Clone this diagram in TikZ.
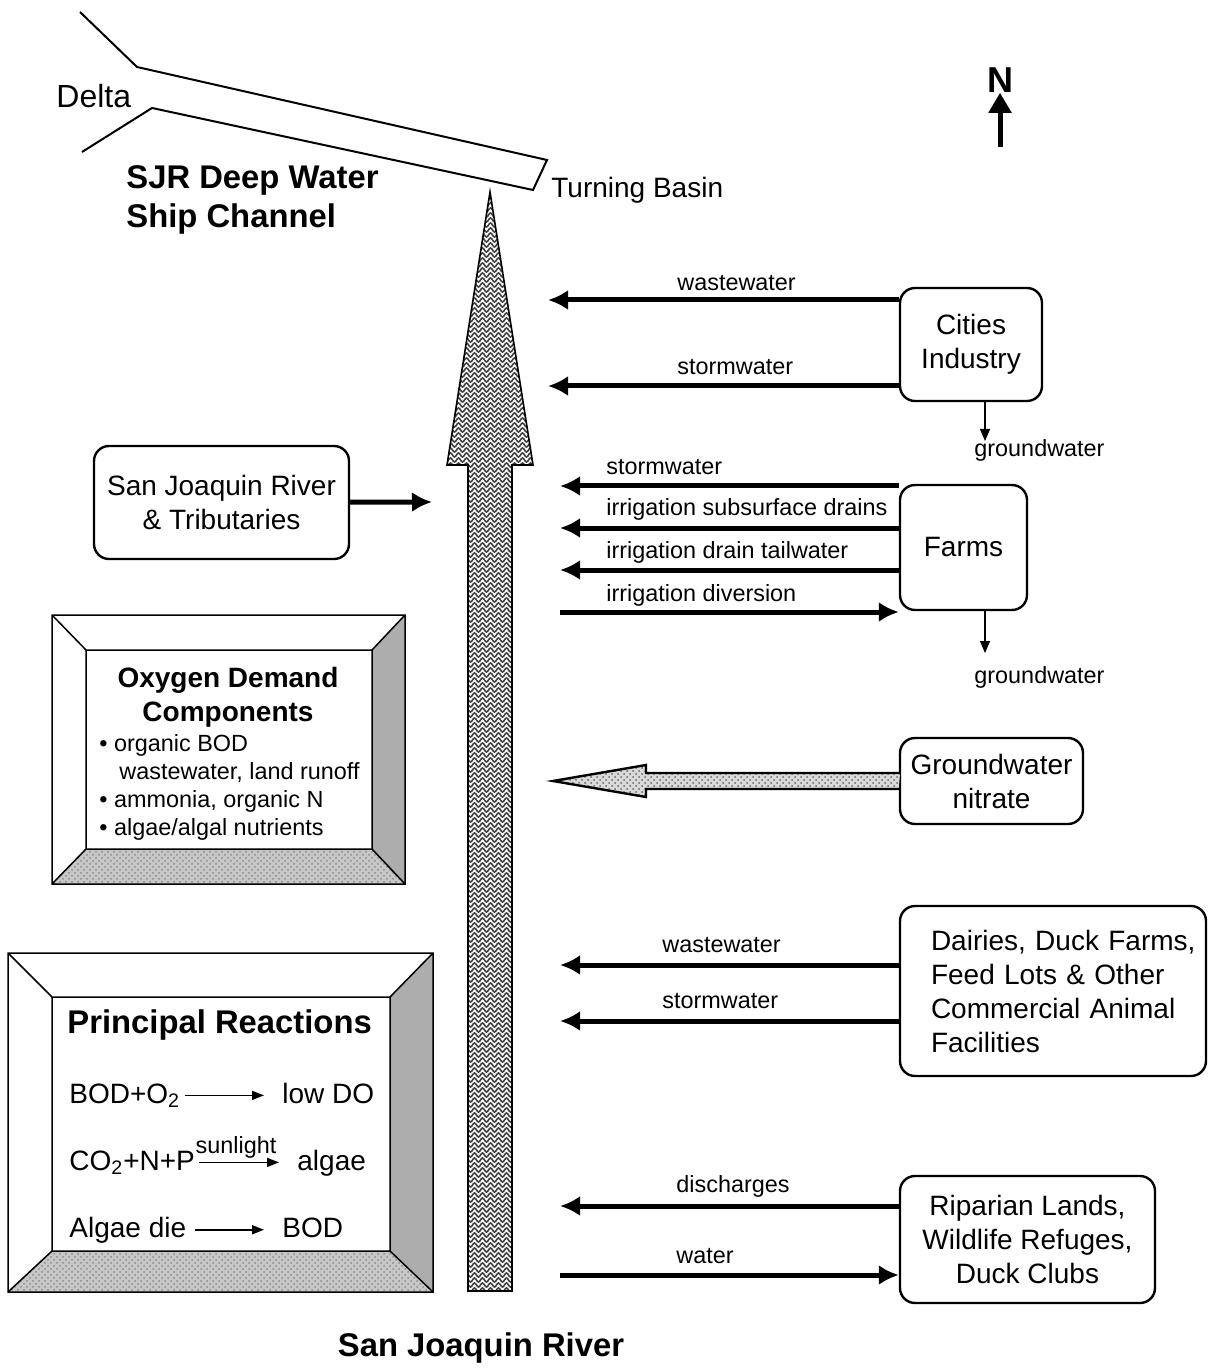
\documentclass[tikz,border=0pt]{standalone}
\usepackage{fontspec}
\setmainfont{Liberation Sans}
\usetikzlibrary{arrows.meta, positioning, decorations.pathmorphing, patterns}

\newcommand{\boxfont}{\fontsize{14}{17}\selectfont}
\newcommand{\lblfont}{\fontsize{11.7}{14}\selectfont}
\newcommand{\headfont}{\fontsize{16.4}{19.5}\selectfont\bfseries}
\newcommand{\riveroutline}{(468,1291) -- (468,465) -- (447,465) -- (490,192)
  -- (533,465) -- (512,465) -- (512,1291) -- cycle}

\begin{document}
\begin{tikzpicture}[
  x=0.5pt, y=-0.5pt,
  srcbox/.style={draw, line width=1.2pt, rounded corners=7.5pt, align=center,
    font=\boxfont, inner sep=0pt},
  flow/.style={line width=2.5pt, -{Latex[length=10pt, width=10pt]}},
  seep/.style={line width=0.6pt, -{Triangle[length=6pt, width=5pt]}},
  rxn/.style={line width=0.8pt, -{Triangle[length=6pt, width=4.5pt]}, shorten >=7pt},
  lbl/.style={font=\lblfont, inner sep=0pt, anchor=base west},
  rtxt/.style={font=\boxfont, inner sep=2pt, anchor=base west},
  bevelR/.style={fill=black!32},
  bevelB/.style={preaction={fill=black!22}, pattern=crosshatch dots, pattern color=black!45},
  frame/.style={line width=0.75pt},
]
  \useasboundingbox (0,0) rectangle (1207,1368);

  % ship channel
  \draw[line width=1pt] (80,12) -- (137,67) -- (547,160) -- (533,190)
    -- (152,108) -- (82,152);
  \node[font=\fontsize{16}{19}\selectfont, anchor=west, inner sep=0pt] (delta) at (56,96) {Delta};
  \node[font=\headfont, align=left, anchor=west, inner sep=0pt] (channel) at (126,200)
    {SJR Deep Water\\Ship Channel};
  \node[font=\boxfont, anchor=west, inner sep=0pt] (basin) at (551,190) {Turning Basin};

  % north arrow
  \node[font=\fontsize{18}{20}\selectfont\bfseries, inner sep=0pt] (north) at (1000,80) {N};
  \coordinate (nbase) at (1000,147);
  \draw[line width=2.5pt, -{Triangle[length=10pt, width=11pt]}] (nbase) -- (north.south);

  % river
  \begin{scope}
    \clip \riveroutline;
    \fill[white] (440,185) rectangle (540,1295);
    \foreach \y in {190,195,...,1295}
      \draw[black!75, line width=0.8pt, decorate,
        decoration={snake, segment length=4pt, amplitude=1pt}] (440,\y) -- (540,\y);
  \end{scope}
  \draw[line width=0.8pt, line join=miter] \riveroutline;
  \node[font=\headfont] (river) at (481,1348) {San Joaquin River};

  % sources
  \node[srcbox, minimum width=71pt, minimum height=56.5pt] (cities) at (971,344.5)
    {Cities\\Industry};
  \node[srcbox, minimum width=63.5pt, minimum height=62.5pt] (farms) at (963.5,547.5)
    {Farms};
  \node[srcbox, minimum width=91.5pt, minimum height=43pt] (gwn) at (991.5,781)
    {Groundwater\\nitrate};
  \node[srcbox, align=left, text width=122pt, inner xsep=15.5pt, minimum height=85pt]
    (dairy) at (1053,991)
    {\mbox{Dairies, Duck Farms,}\\\mbox{Feed Lots \& Other}\\\mbox{Commercial Animal}\\Facilities};
  \node[srcbox, minimum width=127.5pt, minimum height=63.5pt] (ripar) at (1027.5,1239.5)
    {Riparian Lands,\\Wildlife Refuges,\\Duck Clubs};
  \node[srcbox, minimum width=127.5pt, minimum height=56.5pt] (sjr) at (221.5,502.5)
    {San Joaquin River\\\& Tributaries};

  % cities
  \coordinate (cw) at (548,300);
  \coordinate (cs) at (548,386);
  \draw[flow] (cities.west |- cw) -- (cw);
  \draw[flow] (cities.west |- cs) -- (cs);
  \node[lbl] (lcw) at (677,291) {wastewater};
  \node[lbl] (lcs) at (677,375) {stormwater};
  \coordinate (gw1) at (985,441);
  \draw[seep] (cities.south -| gw1) -- (gw1);
  \node[lbl] (lgw1) at (974,457) {groundwater};

  % farms
  \coordinate (fs) at (560,486);
  \coordinate (fd) at (560,528);
  \coordinate (ft) at (560,570);
  \coordinate (fi) at (560,612);
  \draw[flow] (farms.west |- fs) -- (fs);
  \draw[flow] (farms.west |- fd) -- (fd);
  \draw[flow] (farms.west |- ft) -- (ft);
  \draw[flow] (fi) -- (farms.west |- fi);
  \node[lbl] (lfs) at (606,474) {stormwater};
  \node[lbl] (lfd) at (606,516) {irrigation subsurface drains};
  \node[lbl] (lft) at (606,558) {irrigation drain tailwater};
  \node[lbl] (lfi) at (606,601) {irrigation diversion};
  \coordinate (gw2) at (985,653);
  \draw[seep] (farms.south -| gw2) -- (gw2);
  \node[lbl] (lgw2) at (974,683) {groundwater};

  % groundwater nitrate
  \draw[line width=1.2pt, line join=miter, preaction={fill=gray!30},
    pattern=crosshatch dots, pattern color=black!60]
    (gwn.west) ++(0,8) -- (646,789) -- (646,797) -- (553,781) -- (646,765)
    -- (646,773) -- ++(254,0);

  % dairies
  \coordinate (dw) at (560,965);
  \coordinate (ds) at (560,1021);
  \draw[flow] (dairy.west |- dw) -- (dw);
  \draw[flow] (dairy.west |- ds) -- (ds);
  \node[lbl] (ldw) at (662,952) {wastewater};
  \node[lbl] (lds) at (662,1008) {stormwater};

  % riparian
  \coordinate (rd) at (560,1206);
  \coordinate (rw) at (560,1275);
  \draw[flow] (ripar.west |- rd) -- (rd);
  \draw[flow] (rw) -- (ripar.west |- rw);
  \node[lbl] (lrd) at (676,1192) {discharges};
  \node[lbl] (lrw) at (676,1263) {water};

  % tributaries
  \coordinate (sjrtip) at (432,502);
  \draw[flow] (sjr) -- (sjrtip);

  % oxygen demand box
  \fill[bevelR] (372,650) -- (405,615) -- (405,884) -- (372,849) -- cycle;
  \fill[bevelB] (86,849) -- (372,849) -- (405,884) -- (52,884) -- cycle;
  \draw[frame] (52,615) rectangle (405,884) (86,650) rectangle (372,849)
    (52,615) -- (86,650) (405,615) -- (372,650) (405,884) -- (372,849)
    (52,884) -- (86,849);
  \node[font=\fontsize{14}{17}\selectfont\bfseries, align=center] (odhead) at (228,697)
    {Oxygen Demand\\Components};
  \node[font=\fontsize{11.7}{14}\selectfont, align=left, anchor=west, inner sep=0pt]
    (odlist) at (99,787)
    {\textbullet\ organic BOD\\\hspace*{10pt}wastewater, land runoff\\
     \textbullet\ ammonia, organic N\\\textbullet\ algae/algal nutrients};

  % principal reactions box
  \fill[bevelR] (390,997) -- (433,953) -- (433,1292) -- (390,1251) -- cycle;
  \fill[bevelB] (52,1251) -- (390,1251) -- (433,1292) -- (8,1292) -- cycle;
  \draw[frame] (8,953) rectangle (433,1292) (52,997) rectangle (390,1251)
    (8,953) -- (52,997) (433,953) -- (390,997) (433,1292) -- (390,1251)
    (8,1292) -- (52,1251);
  \node[font=\headfont, anchor=base west, inner sep=0pt] (prhead) at (67,1033)
    {Principal Reactions};
  \node[rtxt] (r1l) at (65,1103) {BOD+O\textsubscript{2}};
  \node[rtxt] (r1r) at (278,1103) {low DO};
  \node[rtxt] (r2l) at (65,1170) {CO\textsubscript{2}+N+P};
  \node[rtxt] (r2r) at (293,1170) {algae};
  \node[rtxt] (r3l) at (65,1237) {Algae die};
  \node[rtxt] (r3r) at (278,1237) {BOD};
  \draw[rxn] (r1l.east) -- (r1l.east -| r1r.west);
  \draw[rxn] (r2l.east) -- (r2l.east -| r2r.west);
  \draw[rxn, shorten <=2pt] (r3l.east) -- (r3l.east -| r3r.west);
  \node[lbl, anchor=base] (sun) at (236,1153) {sunlight};
\end{tikzpicture}
\end{document}
